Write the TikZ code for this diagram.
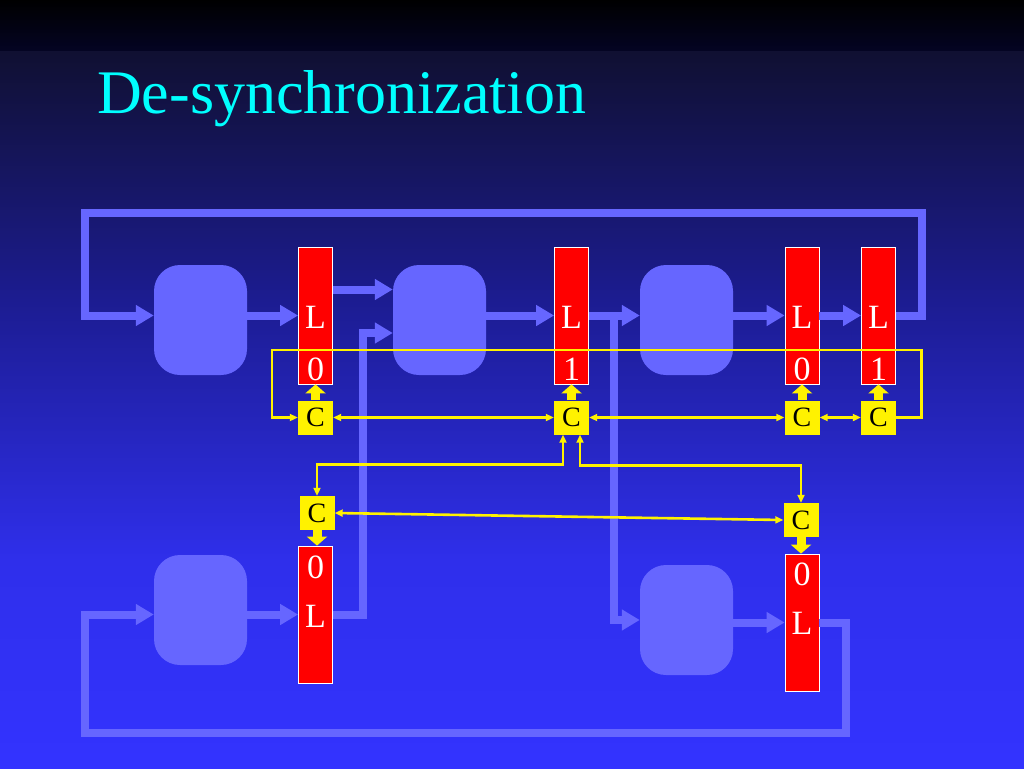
\documentclass[tikz,border=0pt]{standalone}
\usepackage{fontspec}
\setmainfont{Liberation Serif}
\usetikzlibrary{arrows.meta, calc}
\definecolor{gate}{RGB}{102,102,255}
\definecolor{titlecyan}{RGB}{0,255,255}
\definecolor{stripbot}{RGB}{4,4,36}
\definecolor{bgtop}{RGB}{16,16,50}
\definecolor{bgmid}{RGB}{28,28,145}
\definecolor{bglow}{RGB}{47,47,235}
\definecolor{bgbot}{RGB}{51,51,255}

\begin{document}
\begin{tikzpicture}[
  x=1pt, y=-1pt,
  logic/.style={
    fill=gate,
    rounded corners=26pt,
    inner sep=0pt,
    minimum width=93pt,
    minimum height=110pt
  },
  latch/.style={
    fill=red,
    draw=white,
    line width=0.8pt,
    inner sep=0pt,
    minimum width=34pt,
    minimum height=137pt
  },
  bit/.style={text=white, inner sep=0pt, font=\fontsize{34}{34}\selectfont},
  ctrl/.style={
    fill=yellow,
    text=black,
    inner sep=0pt,
    minimum width=35pt,
    minimum height=34pt,
    font=\fontsize{28}{28}\selectfont
  },
  wire/.style={draw=gate, line width=8pt, -{Triangle[length=18pt,width=20pt]}},
  hand/.style={draw=yellow, line width=9pt, -{Triangle[length=9pt,width=20pt]}},
  sig/.style={draw=yellow, line width=2.6pt, >={Triangle[length=8pt,width=7pt]}},
]

\useasboundingbox (0,0) rectangle (1024,768);

% slide background
\fill[top color=black, bottom color=stripbot] (0,0) rectangle (1024,52);
\fill[top color=bgtop, bottom color=bgmid] (0,52) rectangle (1024,300);
\fill[top color=bgmid, bottom color=bglow] (0,300) rectangle (1024,560);
\fill[top color=bglow, bottom color=bgbot] (0,560) rectangle (1024,768);

\node[anchor=base west, inner sep=0pt, text=titlecyan,
  font=\fontsize{62}{62}\selectfont] (title) at (97,113) {De-synchronization};

% combinational blocks
\node[logic] (b1) at (200.5,320) {};
\node[logic] (b2) at (439.5,320) {};
\node[logic] (b3) at (686.5,320) {};
\node[logic] (b4) at (200.5,610) {};
\node[logic] (b5) at (686.5,620) {};

% latches
\node[latch] (l0a) at (315.5,315.5) {};
\node[latch] (l1a) at (571.5,315.5) {};
\node[latch] (l0b) at (802,315.5) {};
\node[latch] (l1b) at (878.5,315.5) {};
\node[latch] (l0c) at (315.5,614.5) {};
\node[latch] (l0d) at (802,622.5) {};

% data path
\coordinate (u) at ([yshift=26pt]l0a.east);
\draw[wire] (l1b.east) -- ++(26,0) |- (85,213) |- (b1.west |- l0a.west);
\draw[wire] (b1.east |- l0a.west) -- (l0a.west);
\draw[wire] (u) -- (u -| b2.west);
\draw[wire] (l0c.east) -- ++(30,0) |- ([yshift=-13pt]b2.west);
\draw[wire] (b2.east |- l1a.west) -- (l1a.west);
\draw[wire] (l1a.east) -- (b3.west |- l1a.east);
\draw[wire] ([xshift=25pt]l1a.east) |- (b5.west);
\draw[wire] (b3.east |- l0b.west) -- (l0b.west);
\draw[wire] (l0b.east) -- (l1b.west);
\draw[wire] (b4.east |- l0c.west) -- (l0c.west);
\draw[wire] (b5.east |- l0d.west) -- (l0d.west);
\draw[wire] (l0d.east) -- ++(27,0) |- (85,733) |- (b4.west |- l0c.west);

% latch labels
\node[bit] (l0a-n) at ($(l0a)+(0,1.5)$) {L};
\node[bit] (l0a-v) at ($(l0a)+(0,53.5)$) {0};
\node[bit] (l1a-n) at ($(l1a)+(0,1.5)$) {L};
\node[bit] (l1a-v) at ($(l1a)+(0,53.5)$) {1};
\node[bit] (l0b-n) at ($(l0b)+(0,1.5)$) {L};
\node[bit] (l0b-v) at ($(l0b)+(0,53.5)$) {0};
\node[bit] (l1b-n) at ($(l1b)+(0,1.5)$) {L};
\node[bit] (l1b-v) at ($(l1b)+(0,53.5)$) {1};
\node[bit] (l0c-n) at ($(l0c)+(0,2)$) {L};
\node[bit] (l0c-v) at ($(l0c)+(0,-47)$) {0};
\node[bit] (l0d-n) at ($(l0d)+(0,1)$) {L};
\node[bit] (l0d-v) at ($(l0d)+(0,-48)$) {0};

% controllers
\node[ctrl] (c0a) at (315.5,417.5) {C};
\node[ctrl] (c1a) at (571.5,417.5) {C};
\node[ctrl] (c0b) at (802,417.5) {C};
\node[ctrl] (c1b) at (878.5,417.5) {C};
\node[ctrl] (c0c) at (317,513) {C};
\node[ctrl] (c0d) at (801,520) {C};

\draw[hand] (c0a.north) -- (l0a.south);
\draw[hand] (c1a.north) -- (l1a.south);
\draw[hand] (c0b.north) -- (l0b.south);
\draw[hand] (c1b.north) -- (l1b.south);
\draw[hand] (c0c.south) -- (c0c.south |- l0c.north);
\draw[hand] (c0d.south) -- (c0d.south |- l0d.north);

% handshakes
\draw[sig, ->] (c1b.east) -- ++(25,0) |- (272,350) |- (c0a.west);
\draw[sig, <->] (c0a.east) -- (c1a.west);
\draw[sig, <->] (c1a.east) -- (c0b.west);
\draw[sig, <->] (c0b.east) -- (c1b.west);
\draw[sig, <->] ([xshift=-8.5pt]c1a.south) -- ++(0,30) -| (c0c.north);
\draw[sig, <->] ([xshift=8.5pt]c1a.south) -- ++(0,31) -| (c0d.north);
\draw[sig, <->] (c0c.east) -- (c0d.west);

\end{tikzpicture}
\end{document}
